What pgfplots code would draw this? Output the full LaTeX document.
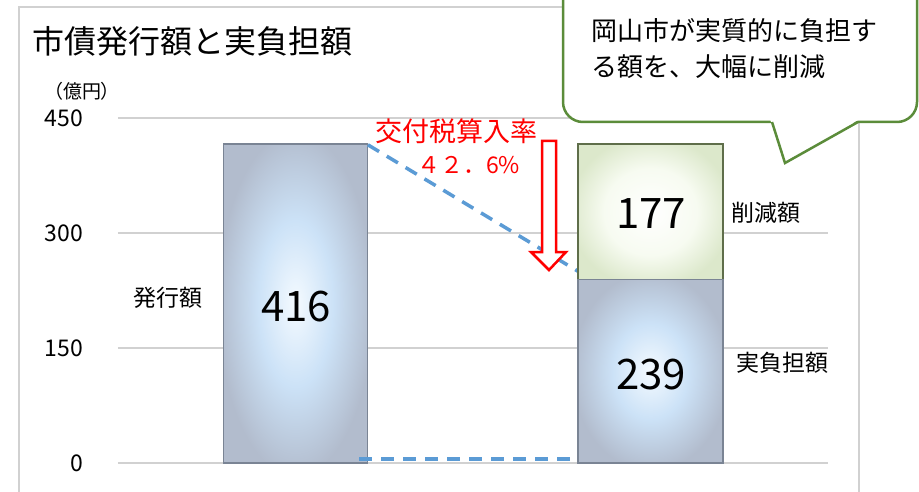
\documentclass[border=0pt]{standalone}
\usepackage{pgfplots}
\pgfplotsset{compat=1.18}
\usepackage{fontspec}
\setmainfont{Noto Sans CJK JP}
\definecolor{bIn}{HTML}{F4FAFF}
\definecolor{bMid}{HTML}{CCE2F7}
\definecolor{bOut}{HTML}{B2BCCD}
\definecolor{bEdge}{HTML}{7A8494}
\definecolor{gIn}{HTML}{FFFFFF}
\definecolor{gMid}{HTML}{F7FBF1}
\definecolor{gOut}{HTML}{DCE8CB}
\definecolor{gEdge}{HTML}{5F6E4A}
\definecolor{dashblue}{HTML}{5B9BD5}
\definecolor{callgreen}{HTML}{5B8C3A}
\pgfdeclareradialshading{blueshade}{\pgfpoint{0bp}{0bp}}{color(0bp)=(bIn); color(13bp)=(bMid); color(27bp)=(bOut); color(50bp)=(bOut)}
\pgfdeclareradialshading{greenshade}{\pgfpoint{0bp}{0bp}}{color(0bp)=(gIn); color(16bp)=(gMid); color(28bp)=(gOut); color(50bp)=(gOut)}
\newcommand{\fs}[1]{\fontsize{#1}{#1}\selectfont}
\begin{document}
\begin{tikzpicture}
\clip (0pt,0pt) rectangle (919pt,-492pt);
\fill[white] (0pt,0pt) rectangle (919pt,-492pt);
\draw[black!18, line width=1.5pt] (19pt,-7pt) rectangle (859pt,-520pt);
\pgfplotsset{baseaxis/.style={
  at={(118pt,-463pt)}, anchor=south west, scale only axis,
  width=710pt, height=345pt,
  xmin=-0.5, xmax=1.5, ymin=0, ymax=450,
  axis line style={draw=none}, major tick length=0pt,
  xtick=\empty, clip=false}}
\begin{axis}[baseaxis,
  ytick={0,150,300,450},
  ymajorgrids, grid style={black!18, line width=1.2pt},
  /pgf/number format/assume math mode=true,
  yticklabel style={anchor=east, inner sep=0pt, xshift=-35pt, font=\fs{23}},
  ]
\addplot[ybar, bar width=144pt, bar shift=0pt, draw=bEdge, line width=1.2pt, shade, shading=blueshade] coordinates {(0,416)};
\addplot[dashblue, line width=3.5pt, dash pattern=on 13pt off 9pt] coordinates {(0.204,415) (0.796,250)};
\addplot[dashblue, line width=3.5pt, dash pattern=on 13pt off 9pt] coordinates {(0.18,5) (0.81,5)};
\end{axis}
\begin{axis}[baseaxis, ybar stacked, bar width=145pt, ytick=\empty]
\addplot[draw=bEdge, line width=1.2pt, shade, shading=blueshade] coordinates {(1,239)};
\addplot[draw=gEdge, line width=1.8pt, shade, shading=greenshade] coordinates {(1,177)};
\end{axis}
\begin{scope}[x=1pt, y=-1pt]
% title and unit
\node[anchor=west, inner sep=0pt, font=\fs{32}] at (32,41) {市債発行額と実負担額};
\node[inner sep=0pt, font=\fs{19}] at (82,91) {（億円）};
% bar labels
\node[inner sep=0pt, font=\fs{42}] at (296,307) {416};
\node[inner sep=0pt, font=\fs{42}] at (651,214) {177};
\node[inner sep=0pt, font=\fs{42}] at (651,375) {239};
\node[anchor=west, inner sep=0pt, font=\fs{23}] at (133,298) {発行額};
\node[anchor=west, inner sep=0pt, font=\fs{23}] at (731,213) {削減額};
\node[anchor=west, inner sep=0pt, font=\fs{23}] at (736,363) {実負担額};
% red annotation
\node[inner sep=0pt, font=\fs{27}, text=red] at (456,131) {交付税算入率};
\node[anchor=west, inner sep=0pt, font=\fs{23}, text=red] at (417,165) {４２．6\%};
\draw[red, line width=2.5pt, fill=white, line join=miter] (542,141) -- (556,141) -- (556,252) -- (566,252) -- (549,270) -- (531,252) -- (542,252) -- cycle;
% callout
\draw[callgreen, line width=2.5pt, fill=white, rounded corners=20pt] (563,-40) rectangle (917,122);
\fill[white] (770,119) -- (785,163) -- (860,119) -- cycle;
\draw[callgreen, line width=2.5pt, line join=miter] (772,122) -- (785,163) -- (858,122);
\node[anchor=west, inner sep=0pt, font=\fs{26}] at (591,31) {岡山市が実質的に負担す};
\node[anchor=west, inner sep=0pt, font=\fs{26}] at (591,67) {る額を、大幅に削減};
\end{scope}
\end{tikzpicture}
\end{document}
